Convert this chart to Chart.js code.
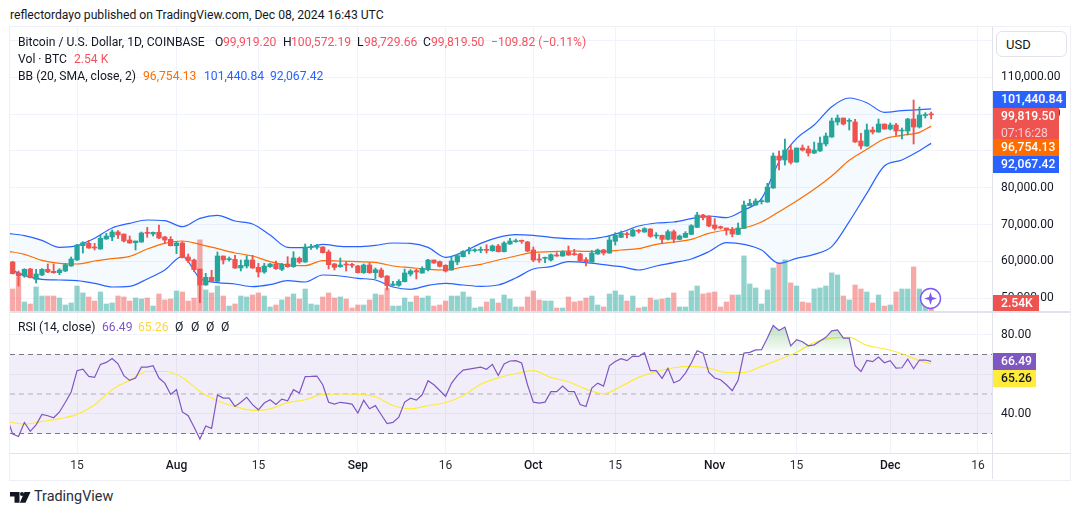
<!DOCTYPE html>
<html>
<head>
<meta charset="utf-8">
<title>BTCUSD</title>
<script src="https://cdn.jsdelivr.net/npm/chart.js@4/dist/chart.umd.min.js"></script>
<style>
  html, body { margin: 0; padding: 0; background: #fff; }
  body { width: 1080px; height: 515px; position: relative; overflow: hidden; font-family: Roboto, sans-serif; font-size: 12.15px; color: #131722; }
  canvas { position: absolute; left: 10px; }
  .txt { position: absolute; white-space: nowrap; line-height: 16px; }
  .frame { position: absolute; left: 8.5px; top: 25.5px; width: 1060px; height: 453px; border: 1.5px solid #eef0f5; }
  .sep { position: absolute; left: 10px; top: 311px; width: 1060px; height: 1.5px; background: #e0e3eb; }
  .tag { position: absolute; left: 993px; color: #fff; font-weight: 500; padding-left: 8px; box-sizing: border-box; line-height: 17px; }
  .usd { position: absolute; left: 996px; top: 31px; width: 71px; height: 26px; box-sizing: border-box; background: #fff; border: 1px solid #e0e3eb; border-radius: 6px; padding-left: 9px; line-height: 25px; font-size: 13px; }
  .star { position: absolute; left: 919px; top: 287px; }
  .logo { position: absolute; left: 10px; top: 491px; }
</style>
</head>
<body>
<div class="txt" style="left:10px;top:7px">reflectordayo published on TradingView.com, Dec 08, 2024 16:43 UTC</div>
<canvas id="priceChart" width="1060" height="284" style="top:27px"></canvas>
<canvas id="rsiChart" width="1060" height="167" style="top:312px"></canvas>
<div class="frame"></div>
<div class="sep"></div>
<div class="usd">USD</div>
<div id="legends"></div>
<div id="tags"></div>
<svg class="star" width="23" height="23" viewBox="0 0 23 23">
  <circle cx="11.5" cy="11.5" r="10" fill="#fff" stroke="#7e57f5" stroke-width="1.4"/>
  <path d="M11.5 5 L13 10 L18 11.5 L13 13 L11.5 18 L10 13 L5 11.5 L10 10 Z" fill="#7e57f5"/>
</svg>
<svg class="logo" width="21" height="12" viewBox="0 0 21 12"><path d="M0 1h9.5v10.7h-5V5.5H0zM14.5 1h6L15.5 11.7h-5.7z" fill="#131722"/><circle cx="12" cy="3" r="2" fill="#131722"/></svg>
<div class="txt" style="left:34px;top:489px;font-size:14.4px;color:#2a2e39">TradingView</div>

<script>
// daily bars, day 0 is Jul 4 2024
var opens = [59857,56870,56056,57957,55151,56328,57866,57323,56961,57414,58771,60400,64292,64925,63839,63387,66102,66645,68002,67459,65830,65106,65287,67821,67459,67911,66645,66011,64292,65015,61215,60400,57957,53612,55694,54608,61486,60490,60581,58228,58771,60400,58409,
  57140,58588,59312,57864,59312,58588,60851,59855,63746,63837,63928,62570,59312,58588,59222,59131,58769,56959,59040,56959,57683,56054,53520,53520,54516,56597,57502,56869,57773,60398,59945,58950,57683,59855,61303,62842,62932,63023,63203,62932,64199,62660,64742,65376,
  65647,65285,63113,60579,60851,60398,61755,61484,62661,62027,62027,60488,59855,62027,63113,62298,65466,66552,67547,66914,68362,68000,68814,66914,67095,66009,68090,66009,66552,67366,69267,72615,72254,69900,69448,69086,68543,67366,68995,75150,75330,
  76236,76145,79946,88634,87548,90263,87005,90806,90535,89449,89992,91892,93793,97865,98951,98046,97865,92707,91349,95693,95150,97322,95965,97051,95421,95421,98680,96508,99650,99919.20];
var highs = [60038,57414,58047,58138,57866,58047,59314,59314,58047,59495,61215,64654,65378,65740,64925,67187,67640,68545,68364,67459,66916,65559,68002,69269,68002,69903,66826,66735,65378,65378,62029,60671,57957,56780,57595,62572,61486,61215,61667,60400,61577,61667,59495,
  59493,59493,60127,59493,61303,62660,61213,64742,64651,64651,64018,63113,59493,60941,59945,59493,58950,59312,59674,58226,58226,56145,54606,55059,57955,57773,57864,58588,60579,60398,60127,59131,61303,61937,62932,63837,63475,63928,64561,64470,64651,65376,66280,66100,
  65828,65466,63928,62027,61213,62027,62389,62932,64199,63294,62208,61032,62932,63385,63294,66914,67819,68272,68000,68905,68724,69177,68905,67819,67185,68543,68543,67185,68090,69991,73339,72797,72435,71620,69629,69086,69267,70444,76417,76869,77050,
  77050,81213,89449,89992,93250,91620,90806,91620,91349,92435,93793,94879,98951,99765,98951,98770,98589,94788,97322,96508,98680,97322,97594,97503,96236,98861,103838,101938,100400,100572.19];
var lows = [56599,53341,55694,55513,54155,56146,56961,56780,56418,57233,58681,60310,62300,63568,63115,63296,66011,65649,66283,65287,64925,63115,65197,66554,66916,66192,64925,64201,62120,60943,59676,57233,48816,53522,54518,54518,59314,60129,58138,57414,58228,58138,55785,
  56778,58407,57864,57502,58407,58407,59493,59765,63294,63385,62299,57955,57683,58407,57412,58407,56868,56778,56778,55330,55602,52253,53339,53249,54425,56054,55240,56778,57412,59493,58498,57140,57593,59131,61213,62027,62570,62389,62299,62751,62570,62570,64651,65195,
  64923,62660,59946,59764,59674,60127,61394,61394,61665,61665,60036,58769,59764,61936,61755,62208,64470,66462,66371,66823,67728,67910,66552,66280,64923,65828,65104,65918,66462,67276,69177,71258,69448,68543,68814,67185,66733,67276,68905,75059,75240,
  75602,76055,79856,84833,86190,86462,86915,89992,88634,89268,89901,91349,93702,97051,97051,95693,92345,90535,91259,94607,95060,95874,95693,94245,93250,94335,91892,96236,98951,98729.66];
var closes = [56690,56056,57866,55604,56599,57866,57142,56961,57685,59133,60671,64472,65106,63658,63658,66283,66916,68002,67187,65559,65015,65559,67730,67640,67911,66373,65830,64292,65015,61034,60219,57776,53612,55694,54608,61486,60400,60762,58228,58952,60400,58228,57142,
  58769,59312,58045,59222,58588,60941,59855,63928,64018,64018,62389,59131,58407,59040,59040,58950,56959,59040,56959,57773,55783,53429,53882,54606,56869,57412,57140,58135,60398,59583,58678,57412,60127,61575,62751,63203,63113,63203,63023,64199,62660,65013,65556,65647,
  65466,62842,60398,60398,61032,61846,61484,62661,61755,61846,60127,59946,62298,63113,62298,65828,67095,67638,67276,68543,68181,68905,66823,67185,66009,68090,66009,66914,67638,69720,72615,71892,69629,68995,69086,68543,67457,69086,75330,75783,76417,
  76507,80218,88634,87548,90263,86915,90806,90263,89449,90263,92164,94064,98137,98951,97322,98227,92435,91349,95693,95150,97322,95965,97051,95421,95693,98680,96508,99765,99919,99819.50];
// volume in thousands of BTC
var volumes = [27.9,42.8,11.4,8.9,30.5,19.0,19.0,19.0,16.5,7.6,10.2,31.7,22.9,17.8,12.7,24.1,8.9,10.2,19.0,17.8,12.7,16.5,15.2,16.5,6.3,21.6,14.0,15.2,25.4,24.1,12.7,16.5,90.2,26.7,22.9,31.7,19.0,6.3,8.9,19.0,17.8,20.3,22.9,
  19.0,5.1,7.6,14.0,17.8,21.6,15.2,27.9,8.9,7.6,17.8,22.9,16.5,17.8,15.2,3.8,7.6,7.6,14.0,21.6,20.3,29.2,6.3,6.3,16.5,11.4,19.0,16.5,19.0,6.3,7.6,12.7,19.0,19.0,24.1,17.8,3.8,5.1,11.4,15.2,10.2,20.3,15.2,5.1,
  5.1,17.8,25.4,14.0,12.7,12.7,3.8,3.8,17.8,11.4,12.7,16.5,19.0,7.6,5.1,21.6,25.4,20.3,12.7,19.0,3.8,5.1,16.5,14.0,15.2,16.5,22.9,5.1,5.1,25.4,31.7,21.6,22.9,24.1,5.1,11.4,20.3,20.3,69.8,34.3,29.2,
  8.9,26.7,54.6,61.0,64.8,35.6,31.7,11.4,10.2,27.9,29.2,31.7,48.3,45.7,19.0,14.0,33.0,27.9,24.1,10.2,20.3,6.3,7.6,24.1,27.9,27.9,55.9,27.9,17.8,2.54];

// Bollinger bands, read every third day
var bbDays = [-1,2,5,8,11,14,17,20,23,26,29,32,35,38,41,44,47,50,53,56,59,62,65,68,71,74,77,80,83,86,89,92,95,98,101,104,107,110,113,116,119,122,125,128,131,134,137,140,143,146,149,152,155,157];
var bbUpper = [67640,67007,65740,63839,64292,66283,69088,70355,71260,71079,69450,71712,72527,70989,70174,67186,63837,63747,64651,64108,64018,64380,65013,64923,63837,61122,62570,64923,66552,67276,67095,66552,66190,66100,66642,67909,69629,70443,70715,71620,72344,71892,73973,77050,87095,93430,97050,102028,104381,103114,100490,100942,101214,101440.84];
var bbMiddle = [62844,61939,60309,59495,59314,60129,60762,61396,63386,64925,65559,64653,63477,62301,61486,59945,59040,58860,60217,60126,59945,59765,58769,58316,57864,57683,58497,59221,60398,61484,62479,62660,62841,62751,62751,63113,63475,64651,65285,66009,67638,68543,69086,70715,73521,76417,79584,83204,87458,90444,93249,94245,95060,96754.13];
var bbLower = [58319,56237,55151,54970,54789,54065,53069,53250,55241,57685,61396,55422,54246,53884,53160,53701,54787,54425,56325,56054,55420,54968,53067,52434,53520,54063,53610,53249,53610,55511,57954,58588,59946,59674,59131,58588,57683,58769,59674,60670,62660,65104,64651,63113,59493,60850,61936,64018,70805,78498,85919,87548,90082,92067.42];

// RSI, first value is day -1
var rsiValues = [38.3,29.7,28.5,35.6,31.1,34.4,39.7,39.0,38.0,40.9,45.8,51.0,61.8,62.6,58.9,58.4,65.0,66.0,68.0,65.3,59.3,56.9,58.1,63.6,63.6,64.3,58.1,55.5,49.8,52.2,40.9,39.0,33.3,27.2,33.8,32.6,49.5,47.9,47.9,43.7,45.8,48.3,44.6,42.0,45.4,47.1,44.7,47.4,46.6,52.2,50.5,58.8,58.9,59.1,54.7,45.8,44.9,45.8,45.4,44.9,
  40.4,46.8,42.5,44.1,39.5,35.0,35.6,38.3,45.9,47.9,46.9,49.6,56.7,54.7,51.8,48.8,55.4,59.3,62.1,62.6,63.1,63.6,62.5,65.0,59.4,65.2,66.7,66.9,65.7,54.7,45.9,45.4,45.9,51.2,51.2,54.0,51.3,51.2,44.7,43.7,53.0,55.5,54.0,64.3,66.5,67.9,66.9,69.2,69.0,70.9,61.8,61.8,57.9,63.0,55.7,56.9,60.6,65.7,71.9,70.7,
  60.9,58.1,57.2,54.7,51.7,56.9,70.7,71.1,72.3,72.4,78.3,84.7,82.2,83.9,74.4,77.5,76.5,74.4,74.9,76.8,78.7,82.0,82.4,78.3,78.3,64.3,61.4,67.0,66.4,68.7,65.8,66.9,63.1,63.3,67.7,62.8,67.2,67.2,66.49];
var rsiMa = [36.1,34.8,36.1,37.5,39.7,44.6,52.2,56.9,61.4,61.4,58.4,51.3,46.6,43.7,41.7,42.5,45.6,47.1,49.8,50.0,49.8,48.6,44.2,42.5,44.1,45.7,49.1,54.9,58.2,60.4,61.8,58.4,56.2,52.5,50.1,53.9,58.4,61.3,63.3,64.0,63.1,60.9,60.9,64.0,67.4,71.1,76.1,78.3,78.7,74.6,72.9,70.4,66.9,65.26];
var rsiLevels = [70, 50, 30];

var priceTicks = [50000,60000,70000,80000,90000,100000,110000,120000];
var rsiTicks = [40, 60, 80];
var timeTicks = [11,28,42,59,74,89,103,120,134,150,165];
var timeLabels = ['15','Aug','15','Sep','16','Oct','15','Nov','15','Dec','16'];
var dayMin = -0.46, dayMax = 167.4;

var upColor = '#26a69a', downColor = '#ef5350';
var upFaint = 'rgba(38,166,154,0.5)', downFaint = 'rgba(239,83,80,0.5)';
var gridColor = '#f0f3fa';

var candleColors = closes.map(function (c, i) { return c >= opens[i] ? upColor : downColor; });
var volumeColors = closes.map(function (c, i) { return c >= opens[i] ? upFaint : downFaint; });

function bandLine(values) {
  return values.map(function (v, i) { return { x: bbDays[i], y: v }; });
}

function money(v) {
  return v.toLocaleString('en-US', { minimumFractionDigits: 2, maximumFractionDigits: 2 });
}

// stop the scales reserving room for half a tick label at each end
function flushScale(s) {
  s.paddingTop = 0;
  s.paddingBottom = 0;
  s.paddingLeft = 0;
  s.paddingRight = 0;
}

function timeScale(showLabels) {
  return {
    type: 'linear', min: dayMin, max: dayMax, offset: false,
    afterBuildTicks: function (s) { s.ticks = timeTicks.map(function (t) { return { value: t }; }); },
    afterFit: function (s) { s.height = showLabels ? 26 : 0; flushScale(s); },
    grid: { color: gridColor, drawTicks: false, offset: false },
    border: { display: false },
    ticks: {
      display: showLabels, padding: 6, maxRotation: 0, autoSkip: false,
      color: function (c) { return isNaN(timeLabels[c.index]) ? '#131722' : '#2a2e39'; },
      font: function (c) { return { family: 'Roboto', size: 12, weight: isNaN(timeLabels[c.index]) ? '500' : '400' }; },
      callback: function (v, i) { return timeLabels[i]; }
    }
  };
}

Chart.defaults.animation = false;
Chart.defaults.font.family = 'Roboto';

new Chart(document.getElementById('priceChart'), {
  data: {
    datasets: [
      { type: 'bar', label: 'Vol', yAxisID: 'yVol', order: 6, grouped: false, barThickness: 4.6,
        data: volumes.map(function (v, i) { return { x: i, y: v }; }), backgroundColor: volumeColors },
      { type: 'line', label: 'BB upper', yAxisID: 'y', order: 4, data: bandLine(bbUpper), borderColor: '#2962ff', borderWidth: 1.2,
        pointRadius: 0, cubicInterpolationMode: 'monotone', fill: '+2', backgroundColor: 'rgba(33,150,243,0.05)' },
      { type: 'line', label: 'BB basis', yAxisID: 'y', order: 3, data: bandLine(bbMiddle), borderColor: '#ff6d00', borderWidth: 1.2, pointRadius: 0, cubicInterpolationMode: 'monotone' },
      { type: 'line', label: 'BB lower', yAxisID: 'y', order: 3, data: bandLine(bbLower), borderColor: '#2962ff', borderWidth: 1.2, pointRadius: 0, cubicInterpolationMode: 'monotone' },
      { type: 'bar', label: 'Wick', yAxisID: 'y', order: 2, grouped: false, barThickness: 1.2,
        data: highs.map(function (h, i) { return { x: i, y: [lows[i], h] }; }), backgroundColor: candleColors },
      { type: 'bar', label: 'Body', yAxisID: 'y', order: 1, grouped: false, barThickness: 4.6, minBarLength: 1,
        data: closes.map(function (c, i) { return { x: i, y: [opens[i], c] }; }), backgroundColor: candleColors }
    ]
  },
  options: {
    responsive: false,
    layout: { padding: 0, autoPadding: false },
    plugins: { legend: { display: false }, tooltip: { enabled: false } },
    scales: {
      x: timeScale(false),
      y: {
        position: 'right', min: 46552, max: 123663,
        afterBuildTicks: function (s) { s.ticks = priceTicks.map(function (t) { return { value: t }; }); },
        afterFit: function (s) { s.width = 78; flushScale(s); },
        grid: { color: gridColor, drawTicks: false },
        border: { display: true, color: '#e0e3eb' },
        ticks: { padding: 9, color: '#131722', font: { size: 12 },
          callback: function (v) { return v > 110000 ? '' : money(v); } }
      },
      yVol: { display: false, min: 0, max: 360 }
    }
  }
});

var rsiChart = new Chart(document.getElementById('rsiChart'), {
  data: {
    datasets: [
      { type: 'line', label: 'Upper', yAxisID: 'y', order: 5, data: [{ x: dayMin, y: rsiLevels[0] }, { x: dayMax, y: rsiLevels[0] }],
        borderColor: '#787b86', borderWidth: 1, borderDash: [5, 4], pointRadius: 0, fill: '+2', backgroundColor: 'rgba(126,87,194,0.1)' },
      { type: 'line', label: 'Middle', yAxisID: 'y', order: 5, data: [{ x: dayMin, y: rsiLevels[1] }, { x: dayMax, y: rsiLevels[1] }],
        borderColor: 'rgba(120,123,134,0.55)', borderWidth: 1, borderDash: [5, 4], pointRadius: 0 },
      { type: 'line', label: 'Lower', yAxisID: 'y', order: 5, data: [{ x: dayMin, y: rsiLevels[2] }, { x: dayMax, y: rsiLevels[2] }],
        borderColor: '#787b86', borderWidth: 1, borderDash: [5, 4], pointRadius: 0 },
      { type: 'line', label: 'RSI-based MA', yAxisID: 'y', order: 2, data: rsiMa.map(function (v, i) { return { x: bbDays[i], y: v }; }),
        borderColor: '#fdeb3b', borderWidth: 1.2, pointRadius: 0, cubicInterpolationMode: 'monotone' },
      { type: 'line', label: 'RSI', yAxisID: 'y', order: 1, data: rsiValues.map(function (v, i) { return { x: i - 1, y: v }; }),
        borderColor: '#7e57c2', borderWidth: 1.2, pointRadius: 0,
        fill: { target: { value: rsiLevels[0] }, above: 'rgba(76,175,80,0.2)', below: 'rgba(0,0,0,0)' } }
    ]
  },
  options: {
    responsive: false,
    layout: { padding: 0, autoPadding: false },
    plugins: { legend: { display: false }, tooltip: { enabled: false } },
    scales: {
      x: timeScale(true),
      y: {
        position: 'right', min: 20.13, max: 91.52,
        afterBuildTicks: function (s) { s.ticks = rsiTicks.map(function (t) { return { value: t }; }); },
        afterFit: function (s) { s.width = 78; flushScale(s); },
        grid: { color: gridColor, drawTicks: false },
        border: { display: true, color: '#e0e3eb' },
        ticks: { padding: 9, color: '#131722', font: { size: 12 }, callback: function (v) { return v === 60 ? '' : v.toFixed(2); } }
      }
    }
  },
  plugins: [{
    id: 'xAxisLine',
    afterDraw: function (chart) {
      var c = chart.ctx, a = chart.chartArea;
      c.save();
      c.strokeStyle = '#e0e3eb';
      c.beginPath();
      c.moveTo(0, a.bottom + 0.5);
      c.lineTo(chart.width, a.bottom + 0.5);
      c.moveTo(a.right + 0.5, a.bottom);
      c.lineTo(a.right + 0.5, chart.height);
      c.stroke();
      c.restore();
    }
  }]
});

// green shading of the overbought part of the RSI line
var rsiScale = rsiChart.scales.y;
var overbought = rsiChart.ctx.createLinearGradient(0, rsiScale.getPixelForValue(86), 0, rsiScale.getPixelForValue(70));
overbought.addColorStop(0, 'rgba(76,175,80,0.4)');
overbought.addColorStop(1, 'rgba(76,175,80,0)');
rsiChart.data.datasets[4].fill.above = overbought;
rsiChart.update();

// legend rows and value tags on the axis
var last = opens.length - 1;
var red = '#f7525f', orange = '#ff6d00', blue = '#2962ff', purple = '#7e57c2', gold = '#fdd835';

function addText(left, top, text, color, extra) {
  var d = document.createElement('div');
  d.className = 'txt';
  d.style.left = left + 'px';
  d.style.top = top + 'px';
  d.style.color = color;
  if (extra) d.style.cssText += extra;
  d.textContent = text;
  document.getElementById('legends').appendChild(d);
}

addText(18, 34, 'Bitcoin / U.S. Dollar, 1D, COINBASE', '#131722');
addText(215, 34, 'O', '#131722');
addText(223, 34, money(opens[last]), red);
addText(283, 34, 'H', '#131722');
addText(291, 34, money(highs[last]), red);
addText(357, 34, 'L', '#131722');
addText(364, 34, money(lows[last]), red);
addText(423, 34, 'C', '#131722');
addText(431, 34, money(closes[last]), red);
addText(491, 34, '\u2212109.82 (\u22120.11%)', red);
addText(18, 51, 'Vol \u00b7 BTC', '#131722');
addText(74, 51, volumes[last].toFixed(2) + ' K', red);
addText(18, 68, 'BB (20, SMA, close, 2)', '#131722');
addText(143, 68, money(bbMiddle[bbMiddle.length - 1]), orange);
addText(204, 68, money(bbUpper[bbUpper.length - 1]), blue);
addText(270, 68, money(bbLower[bbLower.length - 1]), blue);
addText(18, 319, 'RSI (14, close)', '#131722');
addText(102, 319, rsiValues[rsiValues.length - 1].toFixed(2), purple);
addText(138, 319, rsiMa[rsiMa.length - 1].toFixed(2), gold);
addText(175, 319, '\u00d8', '#131722');
addText(191, 319, '\u00d8', '#131722');
addText(206, 319, '\u00d8', '#131722');
addText(221, 319, '\u00d8', '#131722');

function addTag(top, height, width, bg, color, html) {
  var d = document.createElement('div');
  d.className = 'tag';
  d.style.cssText = 'top:' + top + 'px;height:' + height + 'px;width:' + width + 'px;background:' + bg + ';color:' + color;
  d.innerHTML = html;
  document.getElementById('tags').appendChild(d);
}

addTag(91, 17, 73, blue, '#fff', money(bbUpper[bbUpper.length - 1]));
addTag(108, 30.5, 66, '#ef5350', '#fff', money(closes[last]) + '<br><span style="color:#ffc9c9;font-weight:400;line-height:13px">07:16:28</span>');
addTag(138.5, 17, 66, orange, '#fff', money(bbMiddle[bbMiddle.length - 1]));
addTag(155.5, 17, 66, blue, '#fff', money(bbLower[bbLower.length - 1]));
addTag(295, 16, 46, '#ef5350', '#fff', volumes[last].toFixed(2) + 'K');
addTag(353, 17, 43, purple, '#fff', rsiValues[rsiValues.length - 1].toFixed(2));
addTag(370, 17, 43, '#ffeb3b', '#131722', rsiMa[rsiMa.length - 1].toFixed(2));
</script>
</body>
</html>
